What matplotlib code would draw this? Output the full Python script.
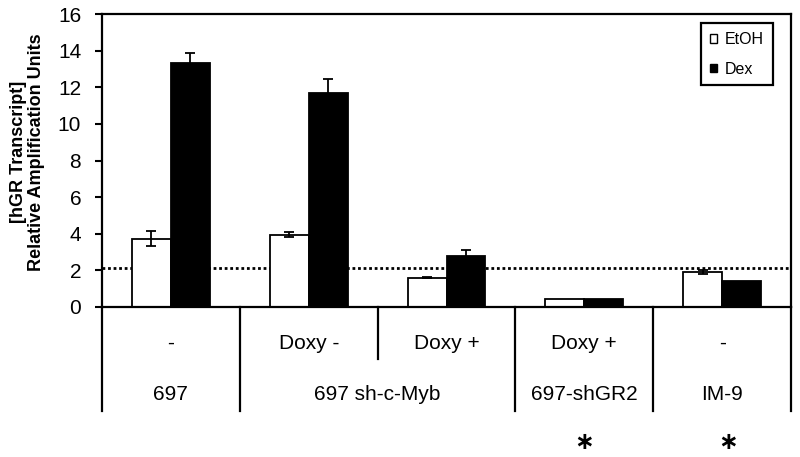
import matplotlib
matplotlib.use("Agg")
import matplotlib.pyplot as plt
import numpy as np
from matplotlib.patches import Rectangle

plt.rcParams['font.family'] = ['Liberation Sans', 'DejaVu Sans']

groups = ["697", "697 sh-c-Myb (Doxy -)", "697 sh-c-Myb (Doxy +)", "697-shGR2", "IM-9"]
etoh = [3.73, 3.95, 1.60, 0.42, 1.90]
etoh_err = [0.42, 0.15, 0.04, 0.0, 0.12]
dex = [13.34, 11.69, 2.79, 0.44, 1.44]
dex_err = [0.55, 0.77, 0.33, 0.0, 0.0]
threshold = 2.15

row1_labels = ["-", "Doxy -", "Doxy +", "Doxy +", "-"]
row2_labels = ["697", "697 sh-c-Myb", "697-shGR2", "IM-9"]
row2_pos = [0, 1.5, 3, 4]
star_pos = [3, 4.04]
yticks = [0, 2, 4, 6, 8, 10, 12, 14, 16]

fig = plt.figure(figsize=(8, 4.57), dpi=100)
ax = fig.add_axes([102/800, 1-307/457, 689/800, 293/457])

x = np.arange(len(groups))
w = 0.283
ax.bar(x - w/2, etoh, w, color='white', edgecolor='black', linewidth=1.3, label='EtOH', zorder=2)
ax.bar(x + w/2, dex, w, color='black', edgecolor='black', linewidth=1.3, label='Dex', zorder=2)

for xi, v, e in zip(x - w/2, etoh, etoh_err):
    if e > 0:
        ax.errorbar(xi, v, yerr=e, fmt='none', ecolor='black', elinewidth=1.3, capsize=3.4, capthick=1.3, zorder=3)
for xi, v, e in zip(x + w/2, dex, dex_err):
    if e > 0:
        ax.errorbar(xi, v, yerr=e, fmt='none', ecolor='black', elinewidth=1.3, capsize=3.4, capthick=1.3, zorder=3)

ax.axhline(threshold, color='black', linestyle=(0, (1, 1)), linewidth=2.0, zorder=1)

ax.set_xlim(-0.5, 4.5)
ax.set_ylim(0, 16)
ax.set_yticks(yticks)
ax.set_yticklabels([str(t) for t in yticks], fontsize=15)
ax.set_xticks([])
ax.tick_params(axis='y', direction='out', length=5, width=1.5, pad=10)
for s in ax.spines.values():
    s.set_linewidth(1.6)

leg = ax.legend(handles=[Rectangle((0, 0), 1, 1, facecolor='white', edgecolor='black', linewidth=1.0),
                         Rectangle((0, 0), 1, 1, facecolor='black', edgecolor='black')],
                labels=['EtOH', 'Dex'], loc='upper right', bbox_to_anchor=(0.9734, 0.968),
                borderaxespad=0, fontsize=11.5, handlelength=0.45, handleheight=0.45,
                handletextpad=0.5, labelspacing=0.9, borderpad=0.55, fancybox=False, framealpha=1)
leg.get_frame().set_edgecolor('black')
leg.get_frame().set_linewidth(1.6)

# table below axis
trans = ax.get_xaxis_transform()
for xv in [-0.5, 0.5, 2.5, 3.5, 4.5]:
    ax.plot([xv, xv], [0, -0.355], color='black', linewidth=1.6, transform=trans, clip_on=False)
ax.plot([1.5, 1.5], [0, -0.177], color='black', linewidth=1.6, transform=trans, clip_on=False)

for xi, lab in zip(x, row1_labels):
    ax.text(xi, -0.123, lab, transform=trans, ha='center', va='center', fontsize=15)
for xp, lab in zip(row2_pos, row2_labels):
    ax.text(xp, -0.297, lab, transform=trans, ha='center', va='center', fontsize=15)
for xp in star_pos:
    ax.text(xp, -0.462, '\u2217', transform=trans, ha='center', va='center', fontsize=17,
            fontweight='bold', family=['DejaVu Sans'])

fig.text(27.5/800, 1-152/457, "[hGR Transcript]\nRelative Amplification Units", rotation=90,
         ha='center', va='center', multialignment='center', fontsize=13, fontweight='bold', linespacing=1.15)

fig.savefig('out.png', dpi=100)
